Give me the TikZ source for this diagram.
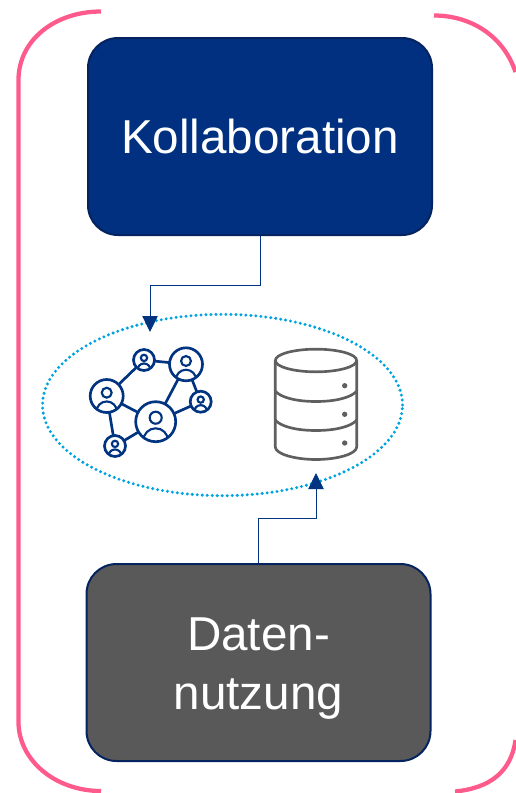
\documentclass[tikz,border=0pt]{standalone}
\usepackage{fontspec}
\setmainfont{Liberation Sans}
\usetikzlibrary{arrows.meta,shapes.geometric}
\definecolor{navyfill}{RGB}{0,48,127}
\definecolor{navyline}{RGB}{5,35,95}
\definecolor{arrowblue}{RGB}{0,51,128}
\definecolor{grayfill}{RGB}{89,89,89}
\definecolor{pinkline}{RGB}{255,90,140}
\definecolor{dotblue}{RGB}{0,163,224}
\definecolor{iconblue}{RGB}{0,51,128}
\definecolor{icongray}{RGB}{95,95,95}
\tikzset{
  x=0.75pt,y=-0.75pt,
  bigbox/.style={draw=navyline,line width=1.5pt,rounded corners=22.5pt,minimum width=258pt,minimum height=147.75pt,inner sep=0pt,text=white,align=center,font=\fontsize{35.7}{43.7}\selectfont},
  boxlabel/.style={inner sep=0pt,text=white,align=center,font=\fontsize{35.7}{43.7}\selectfont},
  bracket/.style={draw=pinkline,line width=3.2pt},
  conn/.style={draw=arrowblue,line width=0.75pt,-{Triangle[length=12pt,width=11.5pt,fill=arrowblue]}},
  netlink/.style={draw=iconblue,line width=2pt},
  cyl/.style={draw=icongray,line width=2pt},
  person/.style={circle,draw=iconblue,line width=2pt,inner sep=0pt,fill=white},
  dotring/.style={ellipse,draw=dotblue,line width=2.5pt,line cap=round,dash pattern=on 0pt off 3.75pt,minimum width=270pt,minimum height=136pt,inner sep=0pt},
}
\newcommand{\personnode}[4]{%
  \node[person,minimum size=#4*1.5pt] (#1) at (#2,#3) {};
  \begin{scope}[shift={(#2,#3)}]
    \draw[iconblue,line width=1.6pt] (0,-#4*0.2) circle[radius=#4*0.3*0.75pt];
    \begin{scope}
      \clip (0,0) circle[radius=#4*0.75pt];
      \draw[iconblue,line width=1.6pt] (0,#4*0.95) circle[radius=#4*0.62*0.75pt];
    \end{scope}
  \end{scope}}
\begin{document}
\begin{tikzpicture}
\useasboundingbox (0,0) rectangle (515,793);
% pink bracket
\draw[bracket] (101,11.5) .. controls (55,11.5) and (18.5,40) .. (18.5,80) -- (18.5,722) .. controls (18.5,760) and (55,791) .. (101,791);
\draw[bracket] (434,15.5) .. controls (470,15.5) and (503,35) .. (515.5,72);
\draw[bracket] (515.5,740) .. controls (511,772) and (490,788) .. (455,791.5);
% boxes
\node[bigbox,fill=navyfill] (koll) at (260,136.5) {Kollaboration};
\node[bigbox,fill=grayfill] (daten) at (258.5,662.5) {};
\node[boxlabel] (datentext) at (258.5,668.5) {Daten-\\nutzung};
% ellipse
\node[dotring] (ring) at (222.5,405) {};
% network links
\coordinate (pa) at (106.7,396);
\coordinate (pb) at (144,360);
\coordinate (pc) at (186,364.3);
\coordinate (pd) at (200.7,401.7);
\coordinate (pe) at (155.7,421.7);
\coordinate (pf) at (115,446);
\draw[netlink] (pa)--(pb) (pb)--(pc) (pc)--(pd) (pc)--(pe) (pd)--(pe) (pa)--(pe) (pa)--(pf) (pf)--(pe);
\personnode{na}{106.7}{396}{16.5}
\personnode{nb}{144}{360}{10.5}
\personnode{nc}{186}{364.3}{16.5}
\personnode{nd}{200.7}{401.7}{10.5}
\personnode{ne}{155.7}{421.7}{20}
\personnode{nf}{115}{446}{10.5}
% database
\draw[cyl] (316,360.5) ellipse[x radius=30.5pt,y radius=8.5pt];
\draw[cyl] (275.3,360.5) -- (275.3,447) .. controls (275.3,454) and (295,459.5) .. (316,459.5) .. controls (337,459.5) and (356.7,454) .. (356.7,447) -- (356.7,360.5);
\draw[cyl] (275.3,391) .. controls (280,397) and (295,401.5) .. (316,401.5) .. controls (337,401.5) and (352,397) .. (356.7,391);
\draw[cyl] (275.3,420) .. controls (280,426) and (295,430.5) .. (316,430.5) .. controls (337,430.5) and (352,426) .. (356.7,420);
\fill[icongray] (344.7,385.7) circle[radius=2pt] (344.7,414.3) circle[radius=2pt] (344.7,443) circle[radius=2pt];
% connectors
\coordinate (tip1) at (150,332);
\coordinate (tip2) at (316,473);
\draw[conn] (koll.south) -- (260,285) -| (tip1);
\draw[conn] (daten.north) -- (258.5,518.3) -| (tip2);
\end{tikzpicture}
\end{document}
